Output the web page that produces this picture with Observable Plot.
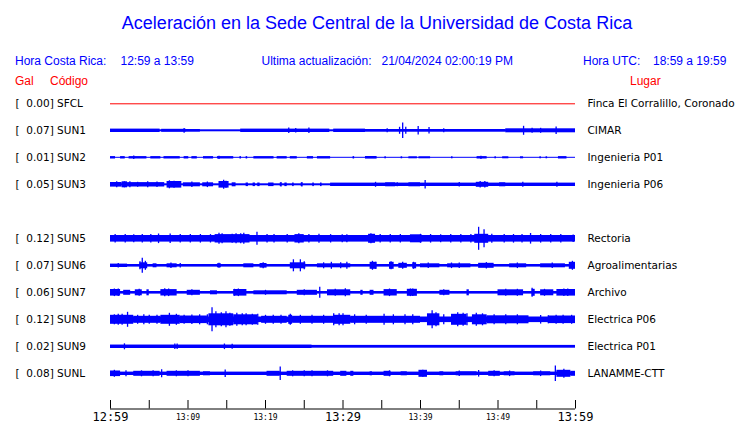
<!DOCTYPE html>
<html><head><meta charset="utf-8">
<script src="https://cdn.jsdelivr.net/npm/d3@7"></script>
<script src="https://cdn.jsdelivr.net/npm/@observablehq/plot@0.6"></script>
<style>
body{margin:0;background:#fff;}
#hdr{position:relative;width:740px;height:88px;font-family:"Liberation Sans",Arial,sans-serif;font-size:12px;line-height:1;}
#hdr span{position:absolute;white-space:pre;}
.b{color:#0000ff}.r{color:#ff0000}
#chart svg{display:block;overflow:visible;}
</style></head><body>
<div id="hdr">
<span class="b" style="left:377px;top:14px;font-size:18px;transform:translateX(-50%)">Aceleración en la Sede Central de la Universidad de Costa Rica</span>
<span class="b" style="left:15px;top:55.3px">Hora Costa Rica:</span>
<span class="b" style="left:120.5px;top:55.3px">12:59 a 13:59</span>
<span class="b" style="left:261.5px;top:55.3px">Ultima actualización:</span>
<span class="b" style="left:381.5px;top:55.3px">21/04/2024 02:00:19 PM</span>
<span class="b" style="left:583px;top:55.3px">Hora UTC:</span>
<span class="b" style="left:653px;top:55.3px">18:59 a 19:59</span>
<span class="r" style="left:15px;top:75px">Gal</span>
<span class="r" style="left:50px;top:75px">Código</span>
<span class="r" style="left:630px;top:75px">Lugar</span>
</div>
<div id="chart"></div>
<script>
// ---- data -------------------------------------------------------------
const trackOrder = ["SFCL","SUN1","SUN2","SUN3","SUN4","SUN5","SUN6","SUN7","SUN8","SUN9","SUNL"];
const codes   = ["SFCL","SUN1","SUN2","SUN3","SUN5","SUN6","SUN7","SUN8","SUN9","SUNL"];
const places  = ["Finca El Corralillo, Coronado","CIMAR","Ingenieria P01","Ingenieria P06","Rectoria","Agroalimentarias","Archivo","Electrica P06","Electrica P01","LANAMME-CTT"];
const peakGal = [0.00,0.07,0.01,0.05,0.12,0.07,0.06,0.12,0.02,0.08];
// background half-amplitude of each trace (display units)
const baseAmp = [0,1.0,0.5,1.0,3.3,1.3,1.3,2.8,1.4,1.7];

const tickMinutes = [0,5,10,15,20,25,30,35,40,45,50,55,60];
const majorTicks = [0,30,60];
const majorLabels = ["12:59","13:29","13:59"];
const minorTicks = [10,20,40,50];
const minorLabels = ["13:09","13:19","13:39","13:49"];

// bursts: [start minute, end minute, half-amplitude]; spikes: [minute, half-amplitude]
const sun1Bursts = [[0,6.4,1.7],[6.6,9.8,1.5],[9.8,11.6,1.3],[16.8,28.3,1.7],[28.8,32.9,1.7],[32.9,51,1.3],[51,60,2.0]];
const sun1Spikes = [[9.5,2.4],[23,2.7],[23.9,2.3],[25.6,2.7],[35.7,2],[37.3,3.5],[37.7,7.7],[38.1,3.5],[39.7,4.2],[41.1,3.2],[43,2],[53.3,4.5],[54.4,2.5],[55.5,2.5],[57.5,3.8]];

const sun2Bursts = [[0,0.65,1.2],[1.3,1.9,1.2],[2.4,4.7,1.2],[5.2,6.5,1.2],[6.9,9.0,1.2],[9.5,10.1,1.2],[10.5,11.2,1.2],[12.0,13.3,1.2],[13.8,15.9,1.2],[16.7,16.9,1.2],[17.5,17.7,1.2],[18.5,21.1,1.2],[21.5,22.8,1.2],[23.2,24.1,1.2],[25.4,26.2,1.2],[26.7,28.4,1.2],[31.3,31.5,1.2],[32.9,34.4,1.3],[35.4,35.6,1.0],[37.5,37.7,1.0],[38.5,39.6,1.0],[39.8,41.3,1.0],[44,44.2,1.0],[47.3,48.6,1.2],[49.6,49.8,1.0],[50.6,51.4,1.0],[52.9,53.3,1.0],[55.4,55.6,1.0],[56.2,56.4,1.0],[57.8,58.9,1.2]];
const sun2Spikes = [[3,1.7],[14,1.6],[47.8,1.6]];

const sun3Bursts = [[0,1.5,2.3],[1.5,2.2,3.0],[2.2,7.0,2.2],[7.3,9.2,3.3],[9.4,11.6,2.0],[11.9,13.3,2.0],[14.0,15.3,3.3],[15.7,16.2,2.0],[17.5,17.8,1.8],[18.4,18.7,1.8],[19.0,19.3,1.8],[20.4,21.1,1.8],[21.9,22.1,1.8],[22.5,22.8,1.8],[23.5,23.7,1.8],[24.6,24.8,1.8],[26.1,26.3,1.8],[27.1,27.3,1.8],[28.4,60,1.7],[35.5,36.8,2.0],[38.5,40,2.0],[47.2,48.8,2.5],[50.2,51,2.0]];
const sun3Spikes = [[0.8,3],[1.8,3],[2.5,3],[3.5,2.5],[4.8,3],[6,2.8],[7.6,4.0],[8.2,3.5],[10.5,2.8],[12.5,2.8],[14.6,4.5],[14.9,3.5],[22,2.2],[24.7,2.2],[34.2,2.5],[37,2],[40.6,4.2],[45,2.2],[47.7,3.3],[48.3,3.3],[53.2,2.5],[57.6,2.5]];

const sun5Bursts = [[13.5,18,4.2],[23.8,25,4.2],[33.3,34.2,4.5],[38.7,40.2,4.0],[47,48.8,4.5]];
const sun5Spikes = [[0.6,4.2],[1.9,4.3],[3,4],[4.1,4.3],[5.2,4.2],[6.2,4.8],[7.7,4.8],[9,4.3],[10.3,4.2],[11.6,4.3],[12.9,4.2],[14,5.5],[14.4,5],[15.7,4.5],[16.2,5],[16.8,5],[17.2,5.5],[18.9,6.5],[20.2,4.2],[21.1,4.3],[22.8,4.2],[24.3,5],[25.6,4.3],[26.9,4.5],[28.4,4.2],[29.9,4],[30.5,4],[33.6,5],[34.8,4.2],[36.1,4.2],[37.4,4.2],[40,4.5],[41.3,4.3],[42.6,4],[43.9,4.3],[45.2,4.2],[46.5,4.3],[47.5,11.5],[48.2,9],[49.2,4.5],[50.8,4.2],[52,4.3],[53.1,4.2],[54.2,5.3],[55.5,4.3],[56.8,4.2],[58.1,4.2],[59.7,3.8]];

const sun6Bursts = [[0,2.2,1.7],[3.8,4.8,3],[5.5,6,2],[7.3,8.6,2],[13.8,14.3,2],[17.2,18.5,2],[19.3,20.2,2.3],[23.2,25.2,3],[26.7,31,2.0],[33.5,34.4,3.5],[36,36.6,3.5],[37.2,38.3,2.5],[39,39.5,3],[40,42.5,2],[43.5,46.5,2],[47.5,49.5,2.5],[51.5,53.7,2],[55.5,58.7,2],[59.2,60,3.5]];
const sun6Spikes = [[1,2.3],[3.8,4],[4.1,7.5],[4.5,4.5],[7.8,2.8],[9,2.3],[14,2.5],[19.7,3],[23.6,6],[24.5,6],[25,4],[27.5,3],[28.5,3.5],[29.7,3],[30.5,3.5],[33.8,4.5],[34.2,3.5],[36.2,4],[37.7,3.5],[39.1,3.5],[41,2.8],[44,2.8],[45,2.8],[48.5,3.2],[52.5,2.8],[57,2.8],[59.6,4.5]];

const sun7Bursts = [[0,1.3,3.3],[1.7,2.6,2.5],[3.2,4.1,3],[4.7,5.0,3],[6.5,8.6,3.2],[9.9,11.6,2.5],[12.9,13.8,2],[15.9,17.6,3.3],[18.5,22.8,2],[24.1,26.7,2.5],[28,31,3],[32.3,32.6,2.5],[33.5,34,2.5],[35.3,37,3.2],[38.3,39.6,3.5],[42.5,43.8,2.5],[46,46.3,3],[50,53.3,3],[54.4,54.8,3.5],[55.5,57.2,3],[57.6,60,3.3]];
const sun7Spikes = [[0.5,3.8],[1,3.8],[3.7,3.5],[7,4],[7.5,3.8],[10.5,3],[16,3.5],[16.5,3.8],[20,2.5],[25,3],[27,5.5],[29,3.5],[30.3,4],[36,3.8],[38.7,3.8],[39,3.8],[43,3],[51,3.5],[52.5,3.5],[54.4,4.5],[56,3.5],[58.5,3.8],[59,3.8]];

const sun8Bursts = [[0,3,4.5],[3,6.5,3.5],[6.5,9,4.5],[9,12.5,3.8],[12.7,15.9,6],[15.9,19,5],[19.5,22.8,3.5],[23,23.5,4.5],[23.5,28.8,3.5],[28.8,31,4.5],[31,40,3.5],[40.9,42.5,6],[44,46,5.5],[46.7,48.6,5],[48.6,54,4],[56.5,60,3.8]];
const sun8Spikes = [[0.5,5],[1,5.5],[1.5,5.5],[2.2,7.5],[3.5,4.5],[4.3,5],[5,4.5],[6,4.5],[7.6,6.5],[8.5,5.5],[9.5,4.5],[10.5,4.8],[11.5,5],[12.5,5],[13.1,12],[13.6,8],[14.3,7],[14.9,8],[15.4,6.5],[16.3,6.5],[17,6],[17.5,6],[18.3,5.5],[19,5.5],[20,4.5],[21,4.5],[22,4.5],[23.2,5.5],[24.5,4.5],[26,4.5],[27.5,4.5],[28.8,6],[29.5,6],[30,6],[31.5,5],[33,4.5],[35.3,5.5],[36.5,5],[38,5],[39,5],[41.5,9],[42,7],[43,5],[44.8,7],[45.5,6.5],[46,6],[47.2,6.5],[48,6],[49.5,5],[51,5],[52.5,5],[55.5,4.3],[56.5,4],[57.5,4.5],[58.4,4.5],[59.5,4.5]];

const sun9Bursts = [[0,26,1.7]];
const sun9Spikes = [[1.8,3],[8.3,2.8],[8.6,2.8],[14.7,2.8],[15.7,2.5]];

const sunLBursts = [[0,1.3,2.8],[3,6.4,2.5],[7.3,11.6,2.5],[12,12.9,2],[20.2,21.9,2.5],[22.8,28.8,2.5],[29.7,30.5,2.5],[31,31.4,2.5],[33.5,33.8,2],[35.3,36.2,2.5],[37.5,38.3,2],[39.8,40.9,3.5],[42.5,43,2],[44.6,47.3,2],[48.8,50.3,2.5],[50.8,52.2,2],[54.6,56.8,2],[57.6,59.4,3.5],[59.4,60,2.5]];
const sunLSpikes = [[0.5,3.5],[2,3],[4,3],[5.5,3],[6.6,4],[8.5,3],[10,3],[14.8,3.8],[21.9,6.7],[23.5,3],[25,3],[26,3],[28,3],[36,3],[40.3,3.5],[45,2.8],[47.5,3.3],[49.5,3],[51.5,2.8],[55.5,2.8],[57.4,7.8],[58.5,4.5]];

// ---- build tables -------------------------------------------------------
const burstsBy = {SUN1:sun1Bursts,SUN2:sun2Bursts,SUN3:sun3Bursts,SUN5:sun5Bursts,SUN6:sun6Bursts,SUN7:sun7Bursts,SUN8:sun8Bursts,SUN9:sun9Bursts,SUNL:sunLBursts};
const spikesBy = {SUN1:sun1Spikes,SUN2:sun2Spikes,SUN3:sun3Spikes,SUN5:sun5Spikes,SUN6:sun6Spikes,SUN7:sun7Spikes,SUN8:sun8Spikes,SUN9:sun9Spikes,SUNL:sunLSpikes};

const ROW = 27; // display units between trace baselines
const yOf = code => trackOrder.indexOf(code) * ROW;
const T0 = tickMinutes[0], T1 = tickMinutes[tickMinutes.length - 1];

const bands = [], spikes = [];
codes.forEach((c, i) => {
  if (baseAmp[i] > 0) bands.push({code: c, t0: T0, t1: T1, amp: baseAmp[i]});
  (burstsBy[c] || []).forEach(([a, b, amp]) => bands.push({code: c, t0: a, t1: b, amp}));
  (spikesBy[c] || []).forEach(([t, amp]) => spikes.push({code: c, t, amp}));
});
const stations = codes.map((c, i) => ({
  code: c,
  left: "[" + peakGal[i].toFixed(2).padStart(6, "\u00a0") + "]\u00a0" + c,
  place: places[i]
}));

const Y_TOP = -15.3, Y_AXIS = (trackOrder.length - 1) * ROW + 35.2;
const BLUE = "#0000ff";
const labelOf = (ticks, labels) => d => labels[ticks.indexOf(d)];

const chart = Plot.plot({
  width: 740, height: 335,
  marginLeft: 110, marginRight: 165, marginTop: 0, marginBottom: 335 - (Y_AXIS - Y_TOP),
  x: {domain: [T0, T1]},
  y: {domain: [Y_TOP, Y_AXIS], reverse: true, axis: null},
  style: {background: "white", overflow: "visible"},
  marks: [
    Plot.ruleY(codes.filter((c, i) => peakGal[i] === 0), {y: yOf, stroke: "red", strokeWidth: 1}),
    Plot.rect(bands, {x1: "t0", x2: "t1", y1: d => yOf(d.code) - d.amp, y2: d => yOf(d.code) + d.amp, fill: BLUE}),
    Plot.ruleX(spikes, {x: "t", y1: d => yOf(d.code) - d.amp, y2: d => yOf(d.code) + d.amp, stroke: BLUE, strokeWidth: 1.3}),
    Plot.text(stations, {y: d => yOf(d.code), text: "left", frameAnchor: "left", dx: -95, textAnchor: "start", fontSize: 10.5, fontFamily: "DejaVu Sans", fill: "black"}),
    Plot.text(stations, {y: d => yOf(d.code), text: "place", frameAnchor: "right", dx: 12, textAnchor: "start", fontSize: 10.5, fontFamily: "DejaVu Sans", fill: "black"}),
    Plot.ruleY([Y_AXIS], {stroke: "black"}),
    Plot.ruleX(tickMinutes, {x: d => d, y1: Y_AXIS, y2: Y_AXIS - 8.5, stroke: "black"}),
    Plot.axisX(majorTicks, {anchor: "bottom", tickSize: 0, tickPadding: 3, tickFormat: labelOf(majorTicks, majorLabels), fontSize: 12, fontFamily: "DejaVu Sans Mono", fill: "black"}),
    Plot.axisX(minorTicks, {anchor: "bottom", tickSize: 0, tickPadding: 5, tickFormat: labelOf(minorTicks, minorLabels), fontSize: 8, fontFamily: "DejaVu Sans Mono", fill: "black"})
  ]
});
document.getElementById("chart").appendChild(chart);
</script>
</body></html>
